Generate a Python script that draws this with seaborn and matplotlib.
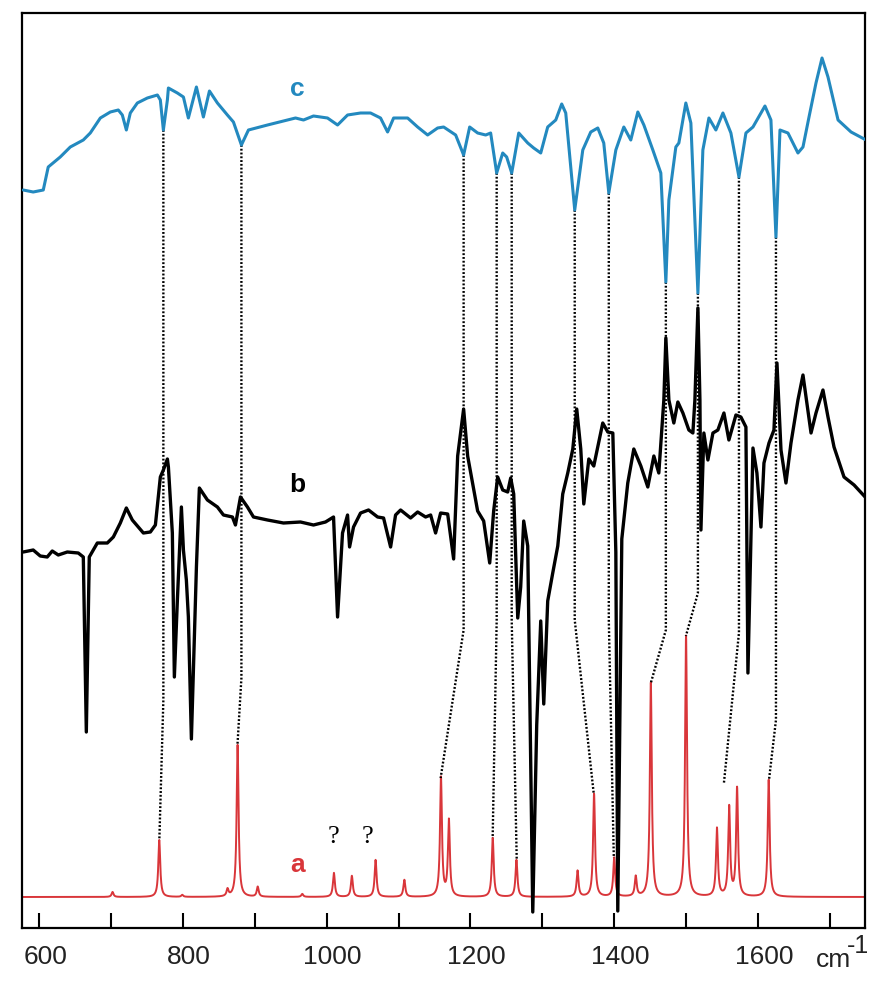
import numpy as np
import pandas as pd
import matplotlib
matplotlib.use("Agg")
import matplotlib.pyplot as plt
import matplotlib.transforms as mtransforms
import seaborn as sns

sns.set_style("white")
plt.rcParams['font.family'] = ['Liberation Sans', 'DejaVu Sans']

# ============================================================================
# DATA (wavenumber in cm-1, intensity in arbitrary units, spectra stacked)
# ============================================================================
# spectrum c (blue, top)
c_wn = [577.7, 591.6, 605.6, 612.5, 629.2, 643.2, 661.3, 671.0, 685.0, 698.9,
        710.0, 715.6, 721.2, 726.7, 736.5, 750.4, 764.4, 768.5, 772.7, 778.3,
        779.7, 792.2, 800.6, 807.5, 818.7, 828.4, 836.8, 847.9, 861.8, 870.2,
        881.3, 891.1, 917.6, 945.4, 956.6, 967.7, 981.6, 1001.1, 1015.1, 1029.0,
        1047.1, 1061.0, 1074.9, 1084.7, 1093.1, 1112.6, 1126.5, 1140.4, 1154.3, 1162.7,
        1179.4, 1190.5, 1198.9, 1210.0, 1221.2, 1228.1, 1236.5, 1244.9, 1250.4, 1257.4,
        1267.2, 1279.7, 1288.0, 1297.8, 1307.5, 1318.7, 1327.0, 1332.6, 1345.1, 1356.3,
        1367.4, 1377.2, 1385.5, 1392.5, 1402.3, 1413.4, 1423.1, 1432.9, 1441.3, 1453.8,
        1464.9, 1471.9, 1476.1, 1485.8, 1490.0, 1499.7, 1506.7, 1516.5, 1523.4, 1531.8,
        1541.5, 1551.3, 1562.4, 1573.6, 1583.3, 1593.1, 1609.8, 1618.1, 1625.1, 1630.7,
        1641.8, 1655.7, 1662.7, 1671.1, 1680.8, 1689.2, 1697.5, 1711.5, 1729.6, 1750.5]
c_int = [738, 736, 738, 761, 771, 781, 788, 795, 810, 816,
         818, 813, 798, 815, 825, 830, 833, 828, 798, 828,
         840, 835, 831, 810, 841, 811, 837, 825, 813, 806,
         783, 798, 803, 808, 810, 808, 812, 810, 803, 813,
         815, 815, 810, 796, 810, 810, 801, 793, 800, 801,
         793, 773, 801, 795, 793, 795, 755, 775, 771, 755,
         795, 785, 780, 775, 801, 808, 824, 815, 718, 778,
         796, 800, 785, 735, 778, 801, 788, 816, 803, 778,
         755, 646, 728, 781, 785, 825, 805, 635, 778, 810,
         798, 815, 795, 751, 795, 801, 822, 808, 691, 798,
         795, 775, 781, 811, 845, 870, 851, 808, 796, 788]

# spectrum b (black, middle)
b_wn = [577.7, 591.6, 601.4, 611.1, 618.1, 626.5, 639.0, 654.3, 661.3, 665.5,
        669.6, 680.8, 694.7, 703.1, 712.8, 721.2, 729.5, 744.9, 754.6, 761.6,
        768.5, 772.7, 778.3, 779.7, 785.2, 788.0, 792.2, 797.8, 800.6, 804.7,
        807.5, 811.7, 818.7, 822.8, 834.0, 847.9, 856.3, 868.8, 873.0, 880.0,
        889.7, 898.1, 917.6, 939.8, 963.5, 981.6, 998.3, 1009.5, 1015.1, 1022.0,
        1029.0, 1031.8, 1037.3, 1047.1, 1058.2, 1070.8, 1079.1, 1088.9, 1095.8, 1102.8,
        1116.7, 1126.5, 1137.6, 1144.6, 1151.5, 1158.5, 1168.3, 1176.6, 1182.2, 1190.5,
        1196.1, 1210.0, 1218.4, 1226.8, 1232.3, 1237.9, 1244.9, 1251.8, 1256.0, 1260.2,
        1265.8, 1269.9, 1274.1, 1279.7, 1286.7, 1292.2, 1297.8, 1302.0, 1307.5, 1314.5,
        1321.5, 1328.4, 1335.4, 1342.4, 1347.9, 1353.5, 1357.7, 1364.7, 1371.6, 1384.1,
        1391.1, 1398.1, 1402.3, 1405.0, 1410.6, 1418.9, 1427.3, 1437.1, 1446.8, 1455.2,
        1462.1, 1469.1, 1471.9, 1476.1, 1483.0, 1488.6, 1495.6, 1503.9, 1509.5, 1512.3,
        1516.5, 1519.3, 1520.7, 1524.8, 1530.4, 1537.4, 1544.3, 1552.7, 1559.6, 1569.4,
        1576.3, 1583.3, 1586.1, 1593.1, 1598.6, 1604.2, 1608.4, 1615.4, 1622.3, 1626.5,
        1632.1, 1639.0, 1646.0, 1655.7, 1662.7, 1673.9, 1680.8, 1690.5, 1697.5, 1705.9,
        1719.8, 1733.8, 1750.5]
b_int = [376, 378, 372, 371, 377, 373, 376, 375, 371, 196,
         371, 385, 385, 391, 405, 420, 408, 395, 396, 403,
         451, 458, 469, 461, 395, 251, 328, 421, 378, 348,
         311, 189, 361, 440, 428, 421, 413, 411, 403, 431,
         421, 411, 408, 405, 406, 403, 406, 411, 311, 395,
         413, 381, 401, 415, 418, 411, 410, 381, 413, 418,
         410, 416, 411, 413, 395, 415, 414, 369, 472, 519,
         472, 417, 407, 365, 417, 451, 438, 436, 450, 434,
         310, 341, 407, 382, 16, 203, 307, 224, 327, 355,
         382, 434, 455, 479, 519, 479, 424, 469, 462, 505,
         496, 495, 376, 17, 389, 445, 479, 462, 441, 472,
         455, 528, 590, 528, 505, 526, 515, 498, 495, 528,
         620, 528, 398, 495, 468, 495, 498, 515, 488, 513,
         511, 501, 255, 480, 455, 401, 465, 485, 498, 565,
         478, 445, 485, 528, 553, 495, 515, 538, 511, 481,
         451, 443, 430]

# spectrum a (red, calculated): line positions and heights above baseline
a_peak_wn = [702, 767, 799, 862, 876, 904, 966, 1010, 1035, 1068,
             1108, 1159, 1170, 1231, 1264, 1349, 1372, 1400, 1430, 1451,
             1500, 1543, 1560, 1571, 1615]
a_peak_h = [5, 57, 2, 7, 152, 10, 3, 24, 21, 37,
            17, 119, 76, 59, 37, 26, 103, 39, 20, 214,
            261, 68, 89, 108, 117]
a_baseline = 31
a_width = 1.6

# assignment links: c band -> (vertical) -> bend -> a line
link_top_wn = [772.7, 881.3, 1190.5, 1236.5, 1257.4, 1345.1, 1392.5, 1471.9, 1516.5, 1573.6, 1625.1]
link_top_y = [798, 783, 773, 755, 755, 718, 735, 646, 635, 751, 691]
link_bend_y = [228, 250, 298, 308, 308, 308, 308, 298, 335, 295, 208]
link_end_wn = [767.1, 875.8, 1158.5, 1230.9, 1264.4, 1371.6, 1399.5, 1451.0, 1499.8, 1552.7, 1615.4]
link_end_y = [88, 183, 150, 90, 68, 134, 70, 245, 292, 145, 148]

major_ticks = [600, 800, 1000, 1200, 1400, 1600]
minor_ticks = [700, 900, 1100, 1300, 1500, 1700]

BLUE = '#2389bf'
RED = '#d9363a'

# ============================================================================
# PLOT
# ============================================================================
fig = plt.figure(figsize=(8.87, 9.89), dpi=100)
ax = fig.add_axes([22 / 887, 61 / 989, 843 / 887, 915 / 989])

# a: Lorentzian-broadened line spectrum
grid = np.arange(576, 1751, 0.2)
a_int = np.full_like(grid, a_baseline, dtype=float)
for x0, h in zip(a_peak_wn, a_peak_h):
    a_int += h * a_width ** 2 / ((grid - x0) ** 2 + a_width ** 2)
df_a = pd.DataFrame({'wn': grid, 'int': a_int})
sns.lineplot(data=df_a, x='wn', y='int', color=RED, lw=1.4, ax=ax,
             estimator=None, sort=False, zorder=2)

# dotted assignment links
for tw, ty, by, ew, ey in zip(link_top_wn, link_top_y, link_bend_y, link_end_wn, link_end_y):
    ax.plot([tw, tw, ew], [ty, by, ey], color='black', lw=1.7,
            linestyle=(0, (0.8, 0.8)), zorder=3)

df_b = pd.DataFrame({'wn': b_wn, 'int': b_int})
sns.lineplot(data=df_b, x='wn', y='int', color='black', lw=2.4, ax=ax,
             estimator=None, sort=False, zorder=4)

df_c = pd.DataFrame({'wn': c_wn, 'int': c_int})
sns.lineplot(data=df_c, x='wn', y='int', color=BLUE, lw=2.2, ax=ax,
             estimator=None, sort=False, zorder=5)

# trace labels
ax.text(959, 839, 'c', color=BLUE, fontsize=19, fontweight='bold', ha='center', va='center')
ax.text(959, 443, 'b', color='black', fontsize=19, fontweight='bold', ha='center', va='center')
ax.text(959, 63, 'a', color=RED, fontsize=19, fontweight='bold', ha='center', va='center')
for xq in [1009.5, 1056.8]:
    ax.text(xq, 91, '?', color='black', fontsize=19, family='Liberation Serif',
            ha='center', va='center')

# axes
ax.set_xlim(576, 1749)
ax.set_ylim(0, 915)
ax.set_xticks(major_ticks)
ax.set_xticks(minor_ticks, minor=True)
ax.set_xticklabels([str(t) for t in major_ticks])
ax.set_yticks([])
ax.set_xlabel('')
ax.set_ylabel('')
ax.tick_params(axis='x', which='both', direction='in', length=11, width=1.5,
               labelsize=19, pad=12, bottom=True, top=False,
               colors='black', labelcolor='#222222')
shift = mtransforms.ScaledTranslation(6 / 100, 0, fig.dpi_scale_trans)
for lab in ax.get_xticklabels():
    lab.set_transform(lab.get_transform() + shift)
for s in ax.spines.values():
    s.set_color('black')
    s.set_linewidth(1.6)

fig.text(816 / 887, 1 - 960 / 989, 'cm', fontsize=19, ha='left', va='center', color='#222222')
fig.text(847 / 887, 1 - 946 / 989, '-1', fontsize=18, ha='left', va='center', color='#222222')

plt.savefig('out.png', dpi=100)
